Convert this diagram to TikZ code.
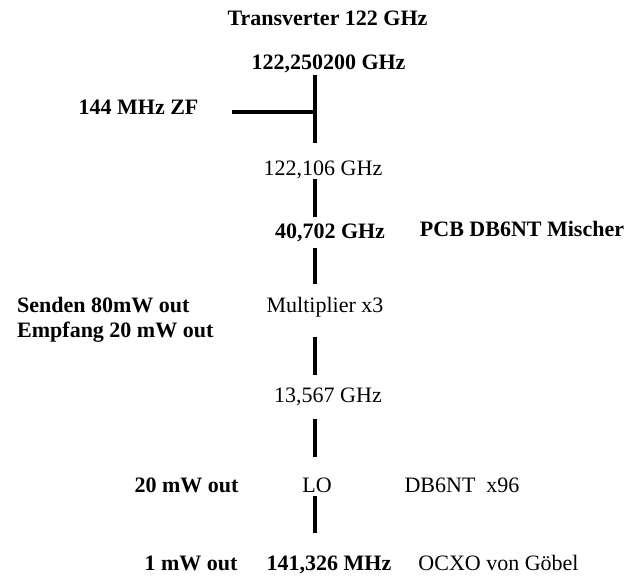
\documentclass[tikz,border=0pt]{standalone}
\usepackage{fontspec}
\setmainfont{Liberation Serif}
\begin{document}
\begin{tikzpicture}[x=1pt,y=-1pt,
  lbl/.style={inner sep=0pt,anchor=base,font=\fontsize{22}{25}\selectfont\bfseries},
  lblr/.style={inner sep=0pt,anchor=base,font=\fontsize{22}{25}\selectfont},
  lblw/.style={inner sep=0pt,anchor=base west,font=\fontsize{22}{25}\selectfont\bfseries},
  wire/.style={line width=3.5pt,black}]
\useasboundingbox (0,0) rectangle (631,579);
% texts
\node[lbl]  (title) at (327.5,25.5) {Transverter 122 GHz};
\node[lbl]  (rf)    at (328.5,69.5) {122,250200 GHz};
\node[lbl]  (zf)    at (138.5,114.5) {144 MHz ZF};
\node[lblr] (f106)  at (323,175.5) {122,106 GHz};
\node[lbl]  (f40)   at (330,238.5) {40,702 GHz};
\node[lbl]  (pcb)   at (522,236.5) {PCB DB6NT Mischer};
\node[lblr] (mult)  at (325,312.5) {Multiplier x3};
\node[lblw] (send)  at (17,312.5) {Senden 80mW out};
\node[lblw] (emp)   at (17,337.5) {Empfang 20 mW out};
\node[lblr] (f13)   at (328,402.5) {13,567 GHz};
\node[lblr] (lo)    at (317,492.5) {LO};
\node[lbl]  (p20)   at (186.5,492.5) {20 mW out};
\node[lblr] (x96)   at (462,492.5) {DB6NT\ \ x96};
\node[lbl]  (f141)  at (329,570.5) {141,326 MHz};
\node[lbl]  (p1)    at (191,570.5) {1 mW out};
\node[lblr] (ocxo)  at (498.5,570.5) {OCXO von Göbel};
% wire end points
\coordinate (a1) at (315,75);  \coordinate (a2) at (315,143);
\coordinate (j)  at (315,112); \coordinate (h1) at (232,112);
\coordinate (b1) at (315,179); \coordinate (b2) at (315,217);
\coordinate (c1) at (315,248); \coordinate (c2) at (315,284);
\coordinate (d1) at (315,337); \coordinate (d2) at (315,375);
\coordinate (e1) at (315,419); \coordinate (e2) at (315,457);
\coordinate (g1) at (315,496); \coordinate (g2) at (315,533);
% wires
\draw[wire] (a1) -- (a2);
\draw[wire] (h1) -- (j);
\draw[wire] (b1) -- (b2);
\draw[wire] (c1) -- (c2);
\draw[wire] (d1) -- (d2);
\draw[wire] (e1) -- (e2);
\draw[wire] (g1) -- (g2);
\end{tikzpicture}
\end{document}
